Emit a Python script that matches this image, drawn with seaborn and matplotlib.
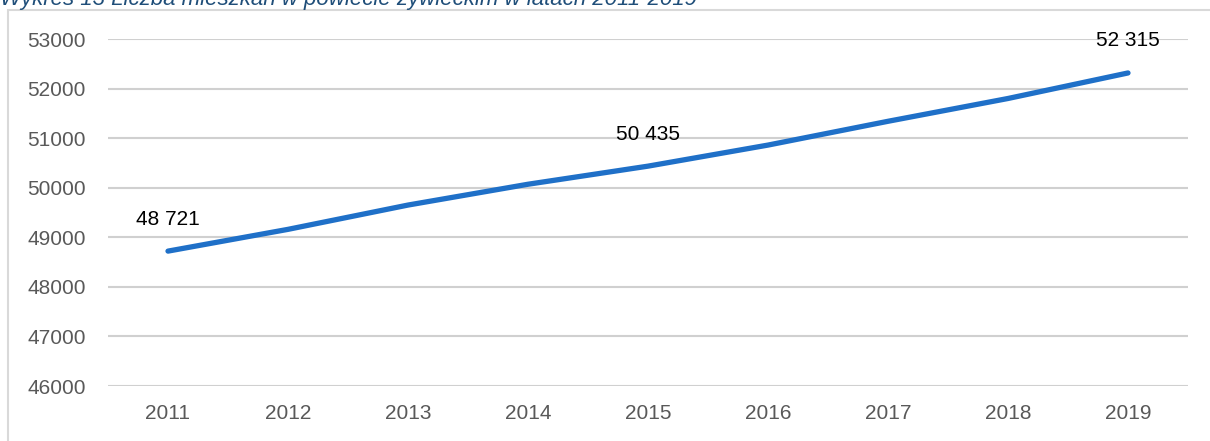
import pandas as pd
import matplotlib.pyplot as plt
import seaborn as sns
from matplotlib.patches import Rectangle

# data
years = [2011, 2012, 2013, 2014, 2015, 2016, 2017, 2018, 2019]
flats = [48721, 49160, 49650, 50070, 50435, 50860, 51340, 51800, 52315]
labelled_years = [2011, 2015, 2019]
y_ticks = [46000, 47000, 48000, 49000, 50000, 51000, 52000, 53000]
title = "Wykres 13 Liczba mieszkań w powiecie żywieckim w latach 2011-2019"

df = pd.DataFrame({"Rok": years, "Mieszkania": flats})

sns.set_style("white")
plt.rcParams['font.family'] = ['Liberation Sans', 'DejaVu Sans']

fig = plt.figure(figsize=(12.1, 4.41), dpi=100)
ax = fig.add_axes([108 / 1210, 1 - 386 / 441, 1080 / 1210, (386 - 39) / 441])

sns.lineplot(x="Rok", y="Mieszkania", data=df, color="#1F70C8", linewidth=3.8,
             solid_capstyle="round", ax=ax)

ax.set_xlim(years[0] - 0.5, years[-1] + 0.5)
ax.set_ylim(y_ticks[0], y_ticks[-1])
ax.set_yticks(y_ticks)
ax.set_xticks(years)
ax.set_xticklabels([str(y) for y in years])
ax.grid(axis="y", color="#D0D0D0", linewidth=1.5)
ax.set_axisbelow(True)
for s in ax.spines.values():
    s.set_visible(False)
ax.tick_params(axis="both", length=0, labelsize=15, labelcolor="#595959")
ax.tick_params(axis="y", pad=16)
ax.tick_params(axis="x", pad=13)
ax.set_xlabel("")
ax.set_ylabel("")

# data labels above selected points
for yr, val in zip(years, flats):
    if yr in labelled_years:
        ax.annotate(f"{val:,}".replace(",", " "), (yr, val), xytext=(0, 32),
                    textcoords="offset pixels", ha="center", va="center",
                    fontsize=15, color="black")

# chart frame and clipped caption
fig.patches.append(Rectangle((8 / 1210, -0.1), 1.2, 1 - 10 / 441 + 0.1,
                             transform=fig.transFigure, fill=False,
                             edgecolor="#D9D9D9", linewidth=1.5))
fig.text(0, 1 - 5 / 441, title, ha="left", va="baseline", fontsize=16,
         style="italic", color="#1F4E79")

fig.savefig("out.png", dpi=100)
